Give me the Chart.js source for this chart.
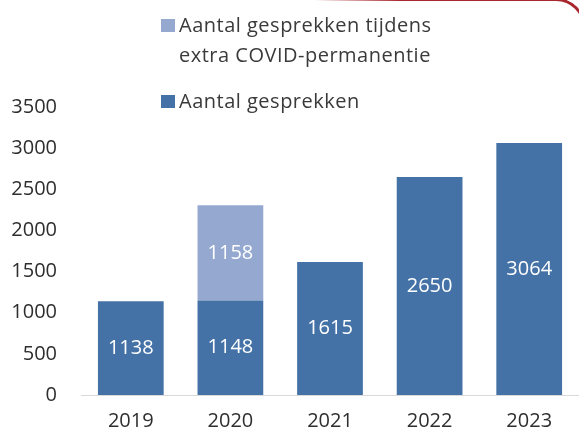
<!DOCTYPE html>
<html>
<head>
<meta charset="utf-8">
<script src="https://cdn.jsdelivr.net/npm/chart.js@4.4.1/dist/chart.umd.min.js"></script>
<style>
    body { margin: 0; background: #fff; overflow: hidden; }
    #wrap { position: relative; width: 579px; height: 434px; }
    #frame {
        position: absolute; left: 300px; top: -2px; width: 283px; height: 60px;
        border-top: 3px solid #a9282e; border-right: 3px solid #a9282e;
        border-top-right-radius: 30px;
        -webkit-mask-image: linear-gradient(to right, transparent 5%, #000 35%);
        mask-image: linear-gradient(to right, transparent 5%, #000 35%);
    }
    #legend { position: absolute; left: 161px; top: 10px; font-family: 'Open Sans', sans-serif; font-size: 20px; letter-spacing: 0.5px; color: #3a3a3a; }
    .item { position: relative; padding-left: 18px; line-height: 30px; }
    .box { position: absolute; left: 0; top: 9px; width: 14px; height: 13px; }
</style>
</head>
<body>
<div id="wrap">
    <canvas id="chart" width="579" height="434"></canvas>
    <div id="frame"></div>
    <div id="legend"></div>
</div>
<script>
// Data
const years = ['2019', '2020', '2021', '2022', '2023'];
const gesprekken = [1138, 1148, 1615, 2650, 3064];
const covidExtra = [null, 1158, null, null, null];
const yTicks = [0, 500, 1000, 1500, 2000, 2500, 3000, 3500];

const darkBlue = '#4472a7';
const lightBlue = '#94a8d0';

// Labels inside the bars, centered + baseline along the category axis
const barLabels = {
    id: 'barLabels',
    beforeDatasetsDraw(chart) {
        const ctx = chart.ctx;
        const y = Math.round(chart.scales.y.getPixelForValue(0)) + 0.5;
        ctx.save();
        ctx.strokeStyle = '#d9d9d9';
        ctx.lineWidth = 1;
        ctx.beginPath();
        ctx.moveTo(chart.chartArea.left, y);
        ctx.lineTo(chart.width, y);
        ctx.stroke();
        ctx.restore();
    },
    afterDatasetsDraw(chart) {
        const ctx = chart.ctx;
        ctx.save();
        ctx.fillStyle = '#ffffff';
        ctx.font = '20px "Open Sans"';
        ctx.textAlign = 'center';
        ctx.textBaseline = 'middle';
        chart.data.datasets.forEach((ds, i) => {
            chart.getDatasetMeta(i).data.forEach((bar, j) => {
                const v = ds.data[j];
                if (v == null) return;
                const p = bar.getCenterPoint();
                ctx.fillText(String(v), p.x, p.y);
            });
        });
        ctx.restore();
    }
};

const chart = new Chart(document.getElementById('chart'), {
    type: 'bar',
    data: {
        labels: years,
        datasets: [{
            label: 'Aantal gesprekken',
            legendLines: ['Aantal gesprekken'],
            data: gesprekken,
            backgroundColor: darkBlue,
            order: 1
        }, {
            label: 'Aantal gesprekken tijdens extra COVID-permanentie',
            legendLines: ['Aantal gesprekken tijdens', 'extra COVID-permanentie'],
            data: covidExtra,
            backgroundColor: lightBlue,
            order: 2
        }]
    },
    options: {
        responsive: false,
        animation: false,
        layout: { padding: { top: 107, right: 0, left: 0, bottom: 0 } },
        plugins: {
            legend: { display: false },
            tooltip: { enabled: false }
        },
        datasets: {
            bar: { categoryPercentage: 1, barPercentage: 0.66 }
        },
        scales: {
            x: {
                stacked: true,
                grid: { display: false, drawTicks: false },
                border: { display: false },
                ticks: { color: '#2e2e2e', font: { family: 'Open Sans', size: 20 }, padding: 14 },
                afterFit(scale) { scale.height = 39; }
            },
            y: {
                stacked: true,
                min: 0,
                max: 3500,
                grid: { display: false, drawTicks: false },
                border: { display: false },
                afterBuildTicks(scale) { scale.ticks = yTicks.map(v => ({ value: v })); },
                ticks: {
                    color: '#2e2e2e',
                    font: { family: 'Open Sans', size: 20 },
                    padding: 24,
                    callback: (v) => String(v)
                },
                afterFit(scale) { scale.width = 81; }
            }
        }
    },
    plugins: [barLabels]
});

// Legend (light series first, like the original)
const legend = document.getElementById('legend');
[1, 0].forEach(i => {
    const ds = chart.data.datasets[i];
    const item = document.createElement('div');
    item.className = 'item';
    item.style.marginBottom = i === 1 ? '16px' : '0';
    item.innerHTML = '<span class="box" style="background:' + ds.backgroundColor + '"></span>' + ds.legendLines.join('<br>');
    legend.appendChild(item);
});
</script>
</body>
</html>
